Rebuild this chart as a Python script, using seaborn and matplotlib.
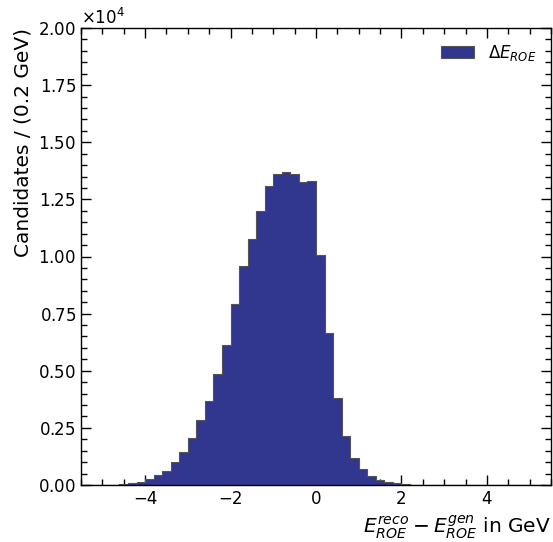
import numpy as np
import pandas as pd
import matplotlib
matplotlib.use("Agg")
import matplotlib.pyplot as plt
import seaborn as sns
from matplotlib.ticker import MultipleLocator

sns.set_style("ticks")
plt.rcParams['font.family'] = ['DejaVu Sans']
plt.rcParams['text.color'] = 'black'
plt.rcParams['axes.labelcolor'] = 'black'
plt.rcParams['xtick.color'] = 'black'
plt.rcParams['ytick.color'] = 'black'
plt.rcParams['axes.edgecolor'] = 'black'

# bin edges (0.2 GeV wide) and candidates per bin
bin_edges = [round(-5.4 + 0.2 * i, 1) for i in range(55)]
counts = [0, 0, 5, 20, 57, 100, 145, 250, 420, 630, 1020, 1430, 2040, 2860,
          3690, 4870, 6120, 7900, 9580, 10760, 11990, 13080, 13630, 13710, 13600,
          13240, 13300, 10080, 6650, 3810, 2160, 1170, 690, 410, 220, 130, 70,
          30, 20, 10, 5, 0, 0, 0, 0, 0, 0, 0, 0, 0, 0, 0, 0, 0]

hist_df = pd.DataFrame({'delta_e': [(a + b) / 2 for a, b in zip(bin_edges[:-1], bin_edges[1:])],
                        'count': counts})

fig, ax = plt.subplots(figsize = (5.53, 5.42), dpi = 100)
fig.subplots_adjust(left = 81 / 553, right = 551 / 553, top = 1 - 28 / 542, bottom = 1 - 485 / 542)

sns.histplot(data = hist_df, x = 'delta_e', weights = 'count', bins = bin_edges, ax = ax,
             element = 'step', color = '#31368f', alpha = 1, edgecolor = '#555555', linewidth = 0.8,
             label = r'$\Delta E_{ROE}$')

ax.set_xlim(-5.5, 5.5)
ax.set_ylim(0, 20000)
ax.yaxis.set_major_locator(MultipleLocator(2500))
ax.yaxis.set_minor_locator(MultipleLocator(500))
ax.xaxis.set_major_locator(MultipleLocator(2))
ax.xaxis.set_minor_locator(MultipleLocator(0.5))
ax.ticklabel_format(axis = 'y', style = 'sci', scilimits = (0, 0), useMathText = True)
ax.yaxis.get_offset_text().set_fontsize(12)

ax.tick_params(which = 'both', direction = 'in', top = True, right = True, labelsize = 12)
ax.tick_params(which = 'major', length = 7, width = 1)
ax.tick_params(which = 'minor', length = 4, width = 1)
for spine in ax.spines.values():
    spine.set_linewidth(1)

ax.set_ylabel('Candidates / (0.2 GeV)', fontsize = 14.5, loc = 'top')
ax.set_xlabel(r'$E^{reco}_{ROE} - E^{gen}_{ROE}$ in GeV', fontsize = 14.5, loc = 'right')
ax.legend(loc = 'upper right', frameon = False, fontsize = 12)

plt.savefig('out.png', dpi = 100)
